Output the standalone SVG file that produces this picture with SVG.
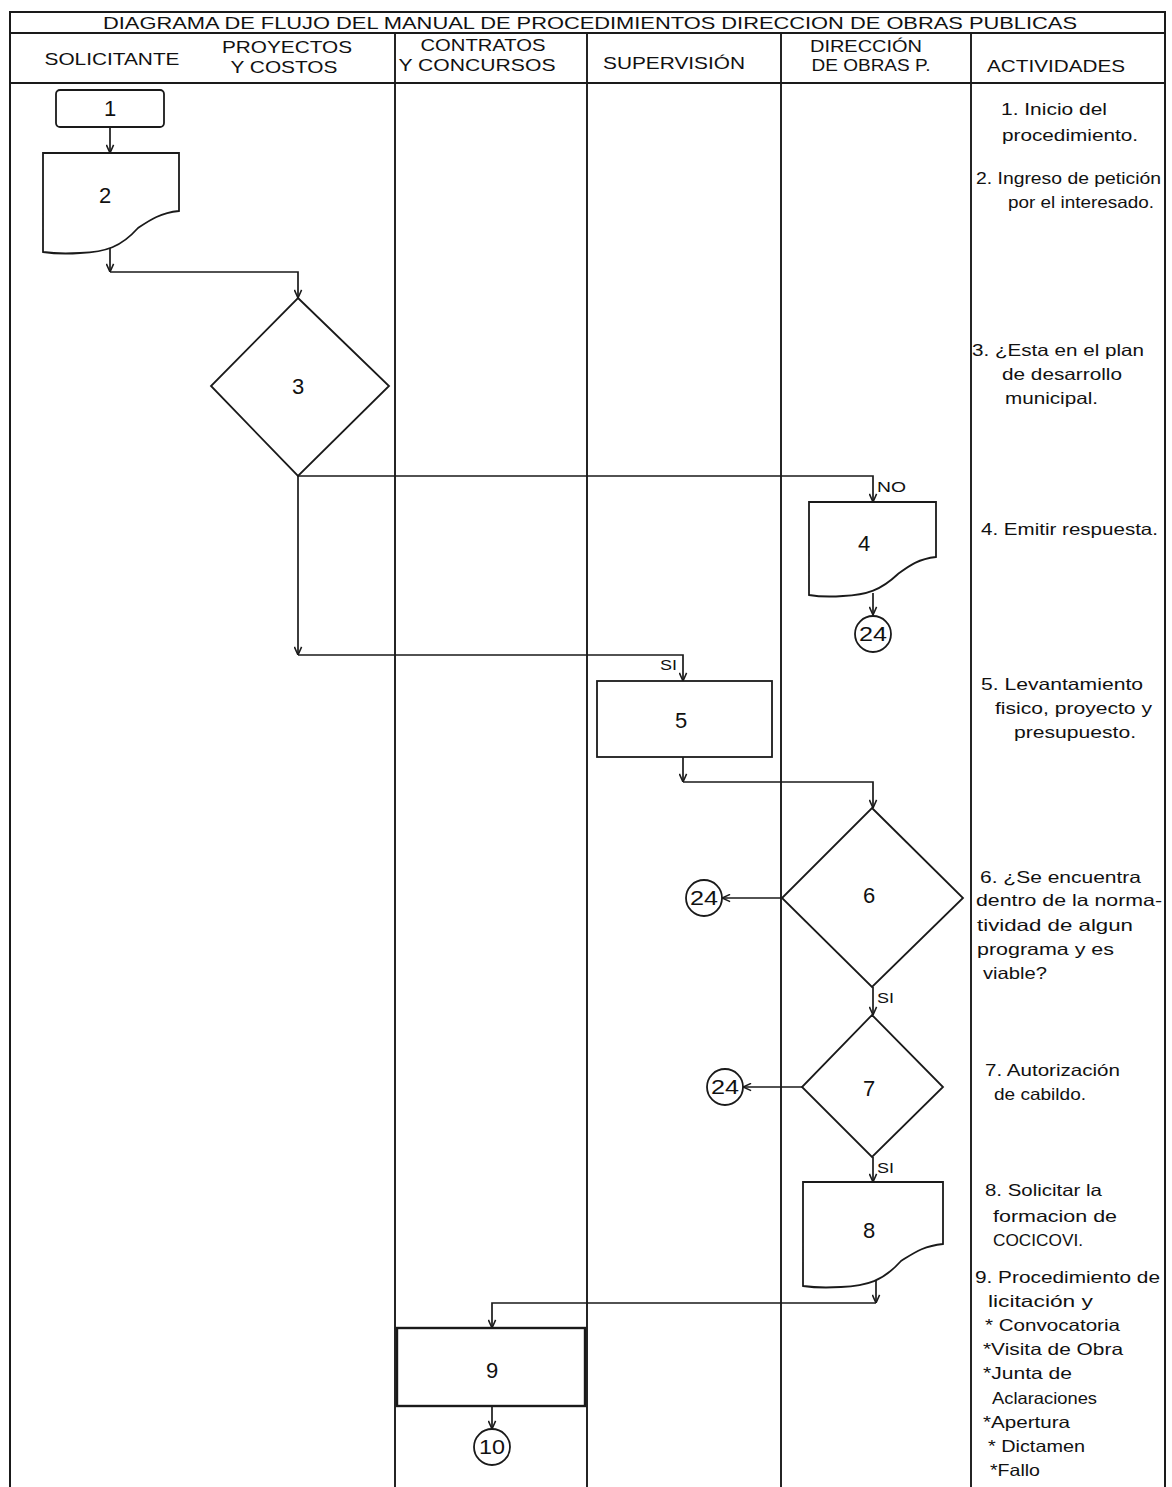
<svg xmlns="http://www.w3.org/2000/svg" width="1172" height="1487" viewBox="0 0 1172 1487">
<defs>
<style>
text{font-family:"Liberation Sans",Arial,sans-serif;fill:#111}
.frame{fill:none;stroke:#1a1a1a;stroke-width:2}
.lane{stroke:#1a1a1a;stroke-width:1.9}
.shape{fill:#fff;stroke:#1a1a1a;stroke-width:1.8}
.conn{fill:none;stroke:#1a1a1a;stroke-width:1.7}
.arr{marker-end:url(#ah)}
.hd{font-size:16.5px;text-anchor:middle}
.num{font-size:22px;text-anchor:middle}
.cnum{font-size:20px;text-anchor:middle}
.lbl{font-size:15px}
.act{font-size:16.5px}
</style>
<marker id="ah" viewBox="0 0 10 10" refX="10" refY="5" markerWidth="9" markerHeight="9" markerUnits="userSpaceOnUse" orient="auto">
<path d="M1,1 L10,5 L1,9" fill="none" stroke="#1a1a1a" stroke-width="1.7"/>
</marker>
</defs>
<rect width="1172" height="1487" fill="#fff"/>
<g id="frame">
<rect class="frame" x="10" y="12" width="1155" height="1480"/>
<line class="lane" x1="10" y1="33" x2="1165" y2="33"/>
<line class="lane" x1="10" y1="83" x2="1165" y2="83"/>
<line class="lane" x1="395" y1="33" x2="395" y2="1487"/>
<line class="lane" x1="587" y1="33" x2="587" y2="1487"/>
<line class="lane" x1="781" y1="33" x2="781" y2="1487"/>
<line class="lane" x1="971" y1="33" x2="971" y2="1487"/>
</g>
<g id="header">
<text x="590" y="29" font-size="17" text-anchor="middle" textLength="974" lengthAdjust="spacingAndGlyphs">DIAGRAMA DE FLUJO DEL MANUAL DE PROCEDIMIENTOS DIRECCION DE OBRAS PUBLICAS</text>
<text class="hd" x="112" y="65" textLength="135" lengthAdjust="spacingAndGlyphs">SOLICITANTE</text>
<text class="hd" x="287" y="53" textLength="130" lengthAdjust="spacingAndGlyphs">PROYECTOS</text>
<text class="hd" x="284" y="73" textLength="107" lengthAdjust="spacingAndGlyphs">Y COSTOS</text>
<text class="hd" x="483" y="51" textLength="125" lengthAdjust="spacingAndGlyphs">CONTRATOS</text>
<text class="hd" x="477" y="71" textLength="157" lengthAdjust="spacingAndGlyphs">Y CONCURSOS</text>
<text class="hd" x="674" y="69" textLength="142" lengthAdjust="spacingAndGlyphs">SUPERVISIÓN</text>
<text class="hd" x="866" y="52" textLength="112" lengthAdjust="spacingAndGlyphs">DIRECCIÓN</text>
<text class="hd" x="871" y="71" textLength="119" lengthAdjust="spacingAndGlyphs">DE OBRAS P.</text>
<text class="hd" x="1056" y="72" textLength="138" lengthAdjust="spacingAndGlyphs">ACTIVIDADES</text>
</g>
<g id="connectors">
<line class="conn arr" x1="110" y1="127" x2="110" y2="153"/>
<line class="conn arr" x1="110" y1="248" x2="110" y2="272"/>
<polyline class="conn arr" points="110,272 298,272 298,298"/>
<polyline class="conn arr" points="298,476 873,476 873,502"/>
<line class="conn arr" x1="298" y1="476" x2="298" y2="655"/>
<polyline class="conn arr" points="298,655 683,655 683,681"/>
<line class="conn arr" x1="873" y1="593" x2="873" y2="615"/>
<line class="conn arr" x1="683" y1="757" x2="683" y2="782"/>
<polyline class="conn arr" points="683,782 873,782 873,808"/>
<line class="conn arr" x1="782" y1="898" x2="722" y2="898"/>
<line class="conn arr" x1="873" y1="987" x2="873" y2="1015"/>
<line class="conn arr" x1="802" y1="1087" x2="743" y2="1087"/>
<line class="conn arr" x1="873" y1="1157" x2="873" y2="1182"/>
<line class="conn arr" x1="876" y1="1278" x2="876" y2="1303"/>
<polyline class="conn arr" points="876,1303 492,1303 492,1328"/>
<line class="conn arr" x1="492" y1="1406" x2="492" y2="1429"/>
<text class="lbl" x="877" y="492" textLength="29" lengthAdjust="spacingAndGlyphs">NO</text>
<text class="lbl" x="660" y="670" textLength="17" lengthAdjust="spacingAndGlyphs">SI</text>
<text class="lbl" x="877" y="1003" textLength="17" lengthAdjust="spacingAndGlyphs">SI</text>
<text class="lbl" x="877" y="1173" textLength="17" lengthAdjust="spacingAndGlyphs">SI</text>
</g>
<g id="n1">
<rect class="shape" x="56" y="90" width="108" height="37" rx="4"/>
<text class="num" x="110" y="116">1</text>
</g>
<g id="n2">
<path class="shape" d="M43,153 H179 V211 C160,213 150,220 138,228 C121,247 106,252 80,253 C65,254 50,253 43,252 Z"/>
<text class="num" x="105" y="203">2</text>
</g>
<g id="n3">
<polygon class="shape" points="298,298 389,386 298,476 211,386"/>
<text class="num" x="298" y="394">3</text>
</g>
<g id="n4">
<path class="shape" d="M809,502 H936 V557 C918,559 909,566 898,574 C881,590 867,595 843,596 C829,597 815,596 809,595 Z"/>
<text class="num" x="864" y="551">4</text>
</g>
<g id="c24a">
<circle class="shape" cx="873" cy="634" r="18"/>
<text class="cnum" x="873" y="641" textLength="28" lengthAdjust="spacingAndGlyphs">24</text>
</g>
<g id="n5">
<rect class="shape" x="597" y="681" width="175" height="76"/>
<text class="num" x="681" y="728">5</text>
</g>
<g id="n6">
<polygon class="shape" points="872,808 963,898 872,987 782,898"/>
<text class="num" x="869" y="903">6</text>
</g>
<g id="c24b">
<circle class="shape" cx="704" cy="898" r="18"/>
<text class="cnum" x="704" y="905" textLength="28" lengthAdjust="spacingAndGlyphs">24</text>
</g>
<g id="n7">
<polygon class="shape" points="872,1015 943,1087 872,1157 802,1087"/>
<text class="num" x="869" y="1096">7</text>
</g>
<g id="c24c">
<circle class="shape" cx="725" cy="1087" r="18"/>
<text class="cnum" x="725" y="1094" textLength="28" lengthAdjust="spacingAndGlyphs">24</text>
</g>
<g id="n8">
<path class="shape" d="M803,1182 H943 V1244 C923,1246 914,1253 901,1261 C883,1281 867,1286 841,1287 C825,1288 810,1287 803,1286 Z"/>
<text class="num" x="869" y="1238">8</text>
</g>
<g id="n9">
<rect class="shape" x="397" y="1328" width="188" height="78" style="stroke-width:2.4"/>
<text class="num" x="492" y="1378">9</text>
</g>
<g id="c10">
<circle class="shape" cx="492" cy="1447" r="18"/>
<text class="cnum" x="492" y="1454" textLength="26" lengthAdjust="spacingAndGlyphs">10</text>
</g>
<g id="actividades">
<text class="act" x="1001" y="115" textLength="106" lengthAdjust="spacingAndGlyphs">1. Inicio del</text>
<text class="act" x="1002" y="141" textLength="136" lengthAdjust="spacingAndGlyphs">procedimiento.</text>
<text class="act" x="976" y="184" textLength="185" lengthAdjust="spacingAndGlyphs">2. Ingreso de petición</text>
<text class="act" x="1008" y="208" textLength="146" lengthAdjust="spacingAndGlyphs">por el interesado.</text>
<text class="act" x="972" y="356" textLength="172" lengthAdjust="spacingAndGlyphs">3. ¿Esta en el plan</text>
<text class="act" x="1002" y="380" textLength="120" lengthAdjust="spacingAndGlyphs">de desarrollo</text>
<text class="act" x="1005" y="404" textLength="93" lengthAdjust="spacingAndGlyphs">municipal.</text>
<text class="act" x="981" y="535" textLength="177" lengthAdjust="spacingAndGlyphs">4. Emitir respuesta.</text>
<text class="act" x="981" y="690" textLength="162" lengthAdjust="spacingAndGlyphs">5. Levantamiento</text>
<text class="act" x="995" y="714" textLength="157" lengthAdjust="spacingAndGlyphs">fisico, proyecto y</text>
<text class="act" x="1014" y="738" textLength="122" lengthAdjust="spacingAndGlyphs">presupuesto.</text>
<text class="act" x="980" y="883" textLength="161" lengthAdjust="spacingAndGlyphs">6. ¿Se encuentra</text>
<text class="act" x="976" y="906" textLength="186" lengthAdjust="spacingAndGlyphs">dentro de la norma-</text>
<text class="act" x="977" y="931" textLength="156" lengthAdjust="spacingAndGlyphs">tividad de algun</text>
<text class="act" x="977" y="955" textLength="137" lengthAdjust="spacingAndGlyphs">programa y es</text>
<text class="act" x="983" y="979" textLength="64" lengthAdjust="spacingAndGlyphs">viable?</text>
<text class="act" x="985" y="1076" textLength="135" lengthAdjust="spacingAndGlyphs">7. Autorización</text>
<text class="act" x="994" y="1100" textLength="92" lengthAdjust="spacingAndGlyphs">de cabildo.</text>
<text class="act" x="985" y="1196" textLength="117" lengthAdjust="spacingAndGlyphs">8. Solicitar la</text>
<text class="act" x="993" y="1222" textLength="124" lengthAdjust="spacingAndGlyphs">formacion de</text>
<text class="act" x="993" y="1246" textLength="90" lengthAdjust="spacingAndGlyphs">COCICOVI.</text>
<text class="act" x="975" y="1283" textLength="185" lengthAdjust="spacingAndGlyphs">9. Procedimiento de</text>
<text class="act" x="988" y="1307" textLength="105" lengthAdjust="spacingAndGlyphs">licitación y</text>
<text class="act" x="985" y="1331" textLength="135" lengthAdjust="spacingAndGlyphs">* Convocatoria</text>
<text class="act" x="983" y="1355" textLength="140" lengthAdjust="spacingAndGlyphs">*Visita de Obra</text>
<text class="act" x="983" y="1379" textLength="89" lengthAdjust="spacingAndGlyphs">*Junta de</text>
<text class="act" x="992" y="1404" textLength="105" lengthAdjust="spacingAndGlyphs">Aclaraciones</text>
<text class="act" x="983" y="1428" textLength="87" lengthAdjust="spacingAndGlyphs">*Apertura</text>
<text class="act" x="988" y="1452" textLength="97" lengthAdjust="spacingAndGlyphs">* Dictamen</text>
<text class="act" x="990" y="1476" textLength="50" lengthAdjust="spacingAndGlyphs">*Fallo</text>
</g>
</svg>
